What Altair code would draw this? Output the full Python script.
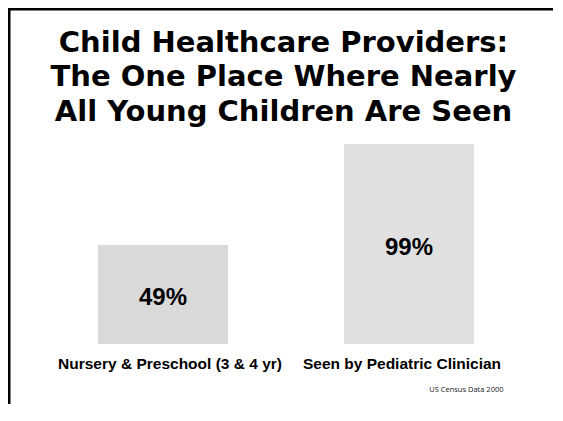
import altair as alt
import pandas as pd

categories = ["Nursery & Preschool (3 & 4 yr)", "Seen by Pediatric Clinician"]
values = [49, 99]
value_labels = ["49%", "99%"]
bar_colors = ["#d9d9d9", "#e0e0e0"]
title_lines = ["Child Healthcare Providers:", "The One Place Where Nearly", "All Young Children Are Seen"]
source_note = "US Census Data 2000"

df = pd.DataFrame({"category": categories, "value": values, "label": value_labels})

W, H = 545, 396
ZERO_Y = 336      # plot-space pixel of the value axis zero
TOP_Y = 134       # plot-space pixel of value 100

x_enc = alt.X(
    "category:N",
    sort=categories,
    scale=alt.Scale(range=[90, 466], paddingInner=0.4715, paddingOuter=0),
    axis=alt.Axis(
        title=source_note,
        offset=ZERO_Y - H,
        labelAngle=0,
        labelFont="Liberation Sans",
        labelFontWeight="bold",
        labelFontSize=15.5,
        labelColor="#000000",
        labelPadding=12,
        labelLimit=400,
        ticks=False,
        tickSize=0,
        domain=False,
        grid=False,
        labelOffset={"condition": {"test": "datum.index < 0.5", "value": 7}, "value": -7},
        titleFont="Open Sans",
        titleFontSize=7.5,
        titleFontWeight="normal",
        titleColor="#222222",
        titleX=495,
        titleY=47,
        titleAlign="right",
        titleBaseline="alphabetic",
    ),
)
y_scale = alt.Scale(domain=[0, 100], range=[ZERO_Y, TOP_Y])

base = alt.Chart(df)

bars = base.mark_bar().encode(
    x=x_enc,
    y=alt.Y("value:Q", scale=y_scale, axis=None),
    color=alt.Color("category:N", sort=categories,
                    scale=alt.Scale(domain=categories, range=bar_colors), legend=None),
)

labels = base.transform_calculate(mid="datum.value / 2").mark_text(
    font="Liberation Sans", fontWeight="bold", fontSize=24, color="#000000",
    baseline="middle", dy=3.5
).encode(
    x=alt.X("category:N", sort=categories),
    y=alt.Y("mid:Q", scale=y_scale, axis=None),
    text="label:N",
)

frame_df = pd.DataFrame({"k": [0]})
top_rule = alt.Chart(frame_df).mark_rule(color="#000000", strokeWidth=2.5).encode(
    x=alt.value(0), x2=alt.value(W), y=alt.value(1.25)
)
left_rule = alt.Chart(frame_df).mark_rule(color="#000000", strokeWidth=2.5).encode(
    x=alt.value(1.25), y=alt.value(0), y2=alt.value(H)
)

chart = alt.layer(top_rule, left_rule, bars, labels).properties(
    width=W,
    height=H,
    title=alt.TitleParams(
        text=title_lines,
        font="DejaVu Sans",
        fontSize=29,
        fontWeight="bold",
        color="#000000",
        anchor="middle",
        lineHeight=34.5,
        offset=-120,
        dx=3,
    ),
    padding={"left": 0, "top": 0, "right": 0, "bottom": 0},
    autosize="none",
    background="#ffffff",
).configure_view(strokeWidth=0, stroke=None)

chart.save("out.html", embed_options={"renderer": "svg", "actions": False})
